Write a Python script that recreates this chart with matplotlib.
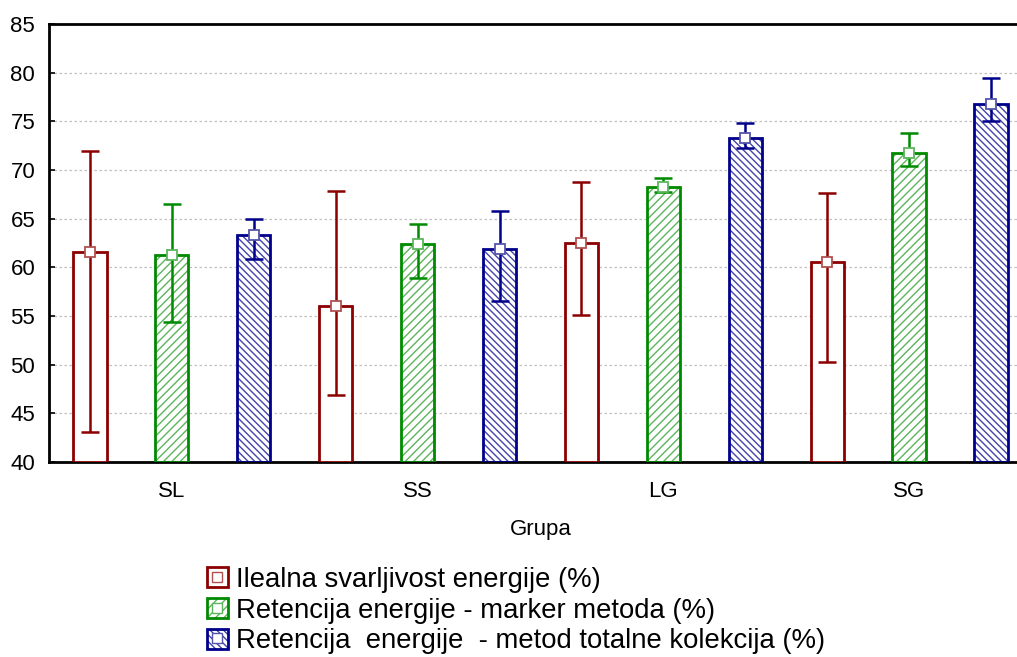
import matplotlib
matplotlib.use("Agg")
import matplotlib.pyplot as plt
from matplotlib.legend_handler import HandlerTuple
import numpy as np
from matplotlib.patches import Patch
from matplotlib.lines import Line2D

plt.rcParams['font.family'] = ['Liberation Sans', 'DejaVu Sans']
plt.rcParams['hatch.linewidth'] = 1.0

groups = ["SL", "SS", "LG", "SG"]
series_labels = [
    "Ilealna svarljivost energije (%)",
    "Retencija energije - marker metoda (%)",
    "Retencija  energije  - metod totalne kolekcija (%)",
]

ileal_mean = [61.6, 56.0, 62.5, 60.5]
ileal_low = [43.1, 46.9, 55.1, 50.3]
ileal_high = [72.0, 67.8, 68.8, 67.6]

marker_mean = [61.3, 62.4, 68.3, 71.7]
marker_low = [54.4, 58.9, 67.7, 70.4]
marker_high = [66.5, 64.5, 69.2, 73.8]

total_mean = [63.3, 61.9, 73.3, 76.8]
total_low = [60.9, 56.5, 72.3, 75.0]
total_high = [65.0, 65.8, 74.8, 79.4]

edge_colors = ["#8b0000", "#008a00", "#00008b"]
hatch_colors = [None, "#5cb55c", "#4444aa"]
hatches = [None, "////", "\\\\\\\\\\"]
marker_edges = ["#b05050", "#5cb55c", "#5555aa"]

means = [ileal_mean, marker_mean, total_mean]
lows = [ileal_low, marker_low, total_low]
highs = [ileal_high, marker_high, total_high]

fig = plt.figure(figsize=(10.17, 6.57), dpi=100)
ax = fig.add_axes([0.0482, 0.2968, 0.9665, 0.6667])

x = np.arange(len(groups))
offsets = [-1 / 3, 0, 1 / 3]
width = 0.135
base = 40

for i in range(3):
    xs = x + offsets[i]
    m = np.array(means[i])
    heights = m - base
    if hatches[i] is not None:
        ax.bar(xs, heights, width, bottom=base, facecolor="white",
               edgecolor=hatch_colors[i], hatch=hatches[i], linewidth=0, zorder=2)
        ax.bar(xs, heights, width, bottom=base, facecolor="none",
               edgecolor=edge_colors[i], linewidth=2.0, zorder=3)
    else:
        ax.bar(xs, heights, width, bottom=base, facecolor="white",
               edgecolor=edge_colors[i], linewidth=2.0, zorder=3)
    yerr = np.vstack([m - np.array(lows[i]), np.array(highs[i]) - m])
    ax.errorbar(xs, m, yerr=yerr, fmt="none", ecolor=edge_colors[i],
                elinewidth=1.8, capsize=6.5, capthick=1.8, zorder=4)
    ax.plot(xs, m, "s", markersize=7.5, markerfacecolor="white",
            markeredgecolor=marker_edges[i], markeredgewidth=1.3,
            linestyle="none", zorder=5)

ax.set_xlim(-0.5, 3.5)
ax.set_ylim(40, 85)
ax.set_yticks(np.arange(40, 86, 5))
ax.set_xticks(x)
ax.set_xticklabels(groups)
ax.tick_params(axis="both", direction="in", length=4, width=1.2, labelsize=16,
               colors="black")
ax.tick_params(axis="x", pad=14)
ax.tick_params(axis="y", pad=10)

for yv in range(45, 85, 5):
    ax.axhline(yv, color="#c0c0c0", linestyle=(0, (2, 2)), linewidth=0.9, zorder=1)

for side in ["left", "top", "bottom", "right"]:
    ax.spines[side].set_linewidth(2.0)
    ax.spines[side].set_color("black")
ax.spines["left"].set_zorder(6)

ax.set_xlabel("Grupa", fontsize=16, labelpad=12)

handles = []
for i in range(3):
    mk = Line2D([], [], marker="s", markersize=6.5, markerfacecolor="white",
                markeredgecolor=marker_edges[i], linestyle="none")
    if hatches[i] is not None:
        p_fill = Patch(facecolor="white", edgecolor=hatch_colors[i],
                       hatch=hatches[i], linewidth=0)
        p_edge = Patch(facecolor="none", edgecolor=edge_colors[i], linewidth=2.0)
        handles.append((p_fill, p_edge, mk))
    else:
        p_edge = Patch(facecolor="white", edgecolor=edge_colors[i], linewidth=2.0)
        handles.append((p_edge, mk))

fig.legend(handles, series_labels, loc="upper left",
           bbox_to_anchor=(0.190, 0.158), frameon=False, fontsize=19.8,
           handlelength=0.75, handleheight=0.75, handletextpad=0.3,
           labelspacing=0.17, borderpad=0.0,
           handler_map={tuple: HandlerTuple(ndivide=1)})

fig.savefig("out.png", dpi=100)
